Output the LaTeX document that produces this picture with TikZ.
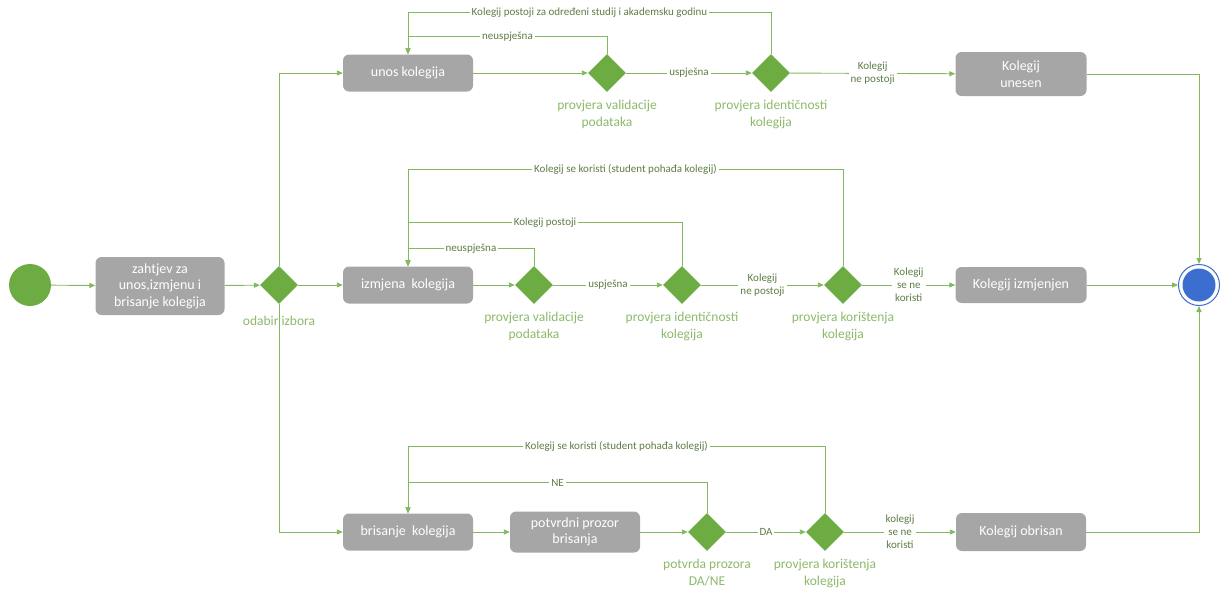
\documentclass[tikz,border=0pt]{standalone}
\usepackage{fontspec}
\setmainfont{Carlito}
\usetikzlibrary{arrows.meta,shapes.geometric}
\definecolor{lg}{HTML}{82B85E}
\definecolor{dg}{HTML}{6DAC42}
\definecolor{bx}{HTML}{A6A6A6}
\definecolor{tl}{HTML}{8CB96A}
\definecolor{cl}{HTML}{5E7E44}
\definecolor{eb}{HTML}{3C6ED0}
\begin{document}
\begin{tikzpicture}[x=1pt,y=-1pt,
 box/.style={rectangle, rounded corners=6pt, fill=bx, text=white, minimum width=130pt, minimum height=37pt, align=center, font=\fontsize{14}{16.5}\selectfont, inner sep=2pt},
 dia/.style={diamond, fill=dg, minimum width=38pt, minimum height=38pt, inner sep=0pt},
 dlab/.style={text=tl, align=center, font=\fontsize{13.5}{17}\selectfont, inner sep=0pt},
 lab/.style={text=cl, fill=white, inner sep=2pt, font=\fontsize{11}{12.8}\selectfont, align=center},
 con/.style={draw=lg, line width=0.9pt},
 arr/.style={con, -{Triangle[length=6pt,width=5pt]}}
]
\useasboundingbox (0,0) rectangle (1224,589);
% start / end
\node[circle, fill=dg, minimum size=42pt, inner sep=0pt] (start) at (30,285) {};
\node[circle, draw=eb, line width=1pt, minimum size=41pt, inner sep=0pt] (end) at (1199,285) {};
\fill[eb] (end.center) circle (16.5pt);
% left part
\node[box, minimum width=129pt, minimum height=58pt] (req) at (160,286) {zahtjev za\\unos,izmjenu i\\brisanje kolegija};
\node[dia] (sel) at (279,285) {};
% top row
\node[box] (unos) at (408,73) {unos kolegija};
\node[dia] (dv1) at (607,73) {};
\node[dia] (di1) at (771,73) {};
\node[box, minimum width=131pt, minimum height=44pt] (un) at (1021,74) {Kolegij\\unesen};
% middle row
\node[box] (izm) at (408,285) {izmjena \ kolegija};
\node[dia] (dv2) at (534,285) {};
\node[dia] (di2) at (682,285) {};
\node[dia] (dk2) at (843,285) {};
\node[box, minimum width=131pt, minimum height=36pt] (izmj) at (1021,285) {Kolegij izmjenjen};
% bottom row
\node[box] (bris) at (408,532) {brisanje \ kolegija};
\node[box, minimum height=41pt] (pot) at (575,532) {potvrdni prozor\\brisanja};
\node[dia] (dp) at (707,532) {};
\node[dia] (dk3) at (825,532) {};
\node[box, minimum width=130pt, minimum height=38pt] (obr) at (1021,532) {Kolegij obrisan};
% connectors
\draw[arr] (start) -- (req);
\draw[arr] (req) -- (sel);
\draw[arr] (sel) -- (izm);
\draw[arr] (sel.north) |- (unos);
\draw[arr] (sel.south) |- (bris);
\node[dlab] (selL) at (279,321) {odabir izbora};
% top row connectors
\draw[arr] (unos) -- (dv1);
\draw[arr] (dv1) -- node[lab]{uspješna} (di1);
\draw[arr] (dv1.north) -- ++(0,-17) -| node[lab, pos=0.25]{neuspješna} (unos.north);
\draw[arr] (di1.north) -- ++(0,-41) -| node[lab, pos=0.25]{Kolegij postoji za određeni studij i akademsku godinu} (unos.north);
\draw[arr] (di1) -- node[lab]{Kolegij\\ne postoji} (un);
\draw[arr] (un) -| (end);
\node[dlab, anchor=north] (dv1L) at (607,100) {provjera validacije\\podataka};
\node[dlab, anchor=north] (di1L) at (771,100) {provjera identičnosti\\kolegija};
% middle row connectors
\draw[arr] (izm) -- (dv2);
\draw[arr] (dv2) -- node[lab]{uspješna} (di2);
\draw[arr] (di2) -- node[lab]{Kolegij\\ne postoji} (dk2);
\draw[arr] (dk2) -- node[lab]{Kolegij\\se ne\\koristi} (izmj);
\draw[arr] (izmj) -- (end);
\draw[arr] (dv2.north) -- ++(0,-17) -| node[lab, pos=0.25]{neuspješna} (izm.north);
\draw[arr] (di2.north) -- ++(0,-43) -| node[lab, pos=0.25]{Kolegij postoji} (izm.north);
\draw[arr] (dk2.north) -- ++(0,-96) -| node[lab, pos=0.25]{Kolegij se koristi (student pohađa kolegij)} (izm.north);
\node[dlab, anchor=north] (dv2L) at (534,312) {provjera validacije\\podataka};
\node[dlab, anchor=north] (di2L) at (682,312) {provjera identičnosti\\kolegija};
\node[dlab, anchor=north] (dk2L) at (843,312) {provjera korištenja\\kolegija};
% bottom row connectors
\draw[arr] (bris) -- (pot);
\draw[arr] (pot) -- (dp);
\draw[arr] (dp) -- node[lab]{DA} (dk3);
\draw[arr] (dk3) -- node[lab]{kolegij\\se ne\\koristi} (obr);
\draw[arr] (obr) -| (end);
\draw[arr] (dp.north) -- ++(0,-30) -| node[lab, pos=0.25]{NE} (bris.north);
\draw[arr] (dk3.north) -- ++(0,-66) -| node[lab, pos=0.25]{Kolegij se koristi (student pohađa kolegij)} (bris.north);
\node[dlab, anchor=north] (dpL) at (707,559) {potvrda prozora\\DA/NE};
\node[dlab, anchor=north] (dk3L) at (825,559) {provjera korištenja\\kolegija};
\end{tikzpicture}
\end{document}
